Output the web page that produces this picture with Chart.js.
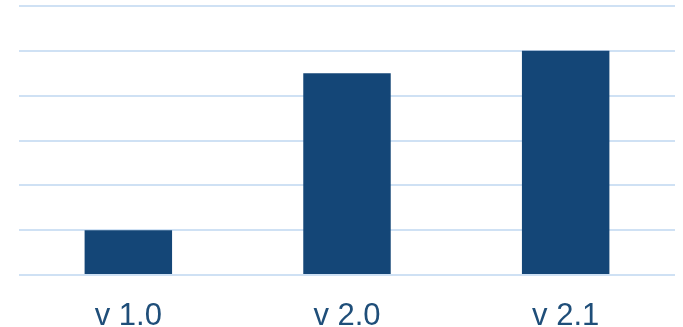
<!DOCTYPE html>
<html><head><meta charset="utf-8">
<script src="https://cdn.jsdelivr.net/npm/chart.js@4/dist/chart.umd.min.js"></script>
<style>html,body{margin:0;padding:0;background:#fff;}#w{width:683px;height:327px;}</style>
</head><body><div id="w"><canvas id="c"></canvas></div>
<script>
const categories = ["v 1.0", "v 2.0", "v 2.1"];
const values = [1, 4.5, 5];
const yMin = 0, yMax = 6, yStep = 1;

new Chart(document.getElementById('c'), {
  type: 'bar',
  data: { labels: categories, datasets: [{ data: values, backgroundColor: '#144677', barPercentage: 0.4, categoryPercentage: 1.0 }] },
  options: {
    responsive: true, maintainAspectRatio: false, animation: false,
    layout: { padding: { left: 19, right: 8, top: 6, bottom: 0 } },
    plugins: { legend: { display: false }, tooltip: { enabled: false } },
    scales: {
      x: {
        grid: { display: false, drawTicks: false }, border: { display: false },
        ticks: { color: '#1f4e79', font: { family: 'Liberation Sans, Arial', size: 31 }, padding: 23 },
        afterFit: (s) => { s.height = 52; }
      },
      y: {
        min: yMin, max: yMax,
        grid: { color: '#cfe1f4', lineWidth: 2, drawTicks: false },
        border: { display: false },
        ticks: { display: false, stepSize: yStep }
      }
    }
  }
});
</script></body></html>
